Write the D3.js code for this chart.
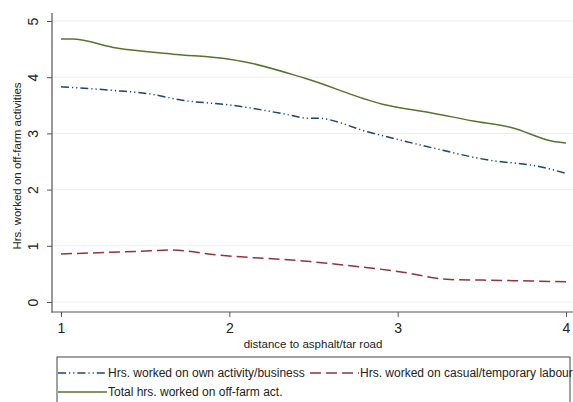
<!DOCTYPE html>
<html><head><meta charset="utf-8">
<script src="https://cdn.jsdelivr.net/npm/d3@7"></script>
<style>body{margin:0;background:#fff;}svg{display:block;font-family:"Liberation Sans",Arial,sans-serif;}</style>
</head><body>
<svg id="c" width="573" height="402"></svg>
<script>
const xTicks = [1, 2, 3, 4];
const yTicks = [0, 1, 2, 3, 4, 5];
const xTitle = "distance to asphalt/tar road";
const yTitle = "Hrs. worked on off-farm activities";

const ownX = [1.0, 1.33, 1.51, 1.72, 2.02, 2.32, 2.47, 2.52, 2.82, 3.21, 3.53, 3.84, 4.0];
const ownY = [3.83, 3.76, 3.71, 3.59, 3.50, 3.35, 3.27, 3.27, 3.03, 2.74, 2.53, 2.41, 2.29];
const casX = [1.0, 1.53, 1.66, 1.93, 2.48, 2.675, 3.01, 3.31, 3.505, 4.0];
const casY = [0.855, 0.91, 0.925, 0.836, 0.72, 0.66, 0.54, 0.40, 0.39, 0.36];
const totX = [1.0, 1.065, 1.33, 1.665, 2.0, 2.08, 2.45, 2.91, 3.21, 3.45, 3.68, 3.92, 4.0];
const totY = [4.68, 4.68, 4.52, 4.41, 4.32, 4.28, 3.98, 3.52, 3.36, 3.22, 3.10, 2.86, 2.83];

const seriesNames = ["Hrs. worked on own activity/business", "Hrs. worked on casual/temporary labour", "Total hrs. worked on off-farm act."];
const colors = ["#1a476f", "#90353b", "#55752f"];
const dashes = ["8,3,1.2,3,1.2,3", "11,5", null];

const svg = d3.select("#c");
const x = d3.scaleLinear().domain([1, 4]).range([61, 566]);
const y = d3.scaleLinear().domain([0, 5]).range([302, 21]);
const axisColor = "#555";

// gridlines
svg.append("g").selectAll("line").data(yTicks).join("line")
  .attr("x1", 52).attr("x2", 573).attr("y1", d => y(d)).attr("y2", d => y(d))
  .attr("stroke", "#e8eff2").attr("stroke-width", 1);

// y axis
const ya = svg.append("g").attr("transform", "translate(52,0)")
  .call(d3.axisLeft(y).tickValues(yTicks).tickSize(5).tickPadding(0).tickFormat(d3.format("d")));
ya.select(".domain").remove();
ya.selectAll(".tick line").attr("stroke", axisColor);
ya.selectAll(".tick text").attr("fill", "#222").attr("font-size", 14)
  .attr("transform", "translate(-19,0) rotate(-90)").attr("x", 0).attr("dy", "0.35em").attr("text-anchor", "middle");
svg.append("line").attr("x1", 52).attr("x2", 52).attr("y1", 13).attr("y2", 312.5).attr("stroke", axisColor).attr("stroke-width", 1.2);

// x axis
const xa = svg.append("g").attr("transform", "translate(0,312)")
  .call(d3.axisBottom(x).tickValues(xTicks).tickSize(5).tickPadding(6).tickFormat(d3.format("d")));
xa.select(".domain").remove();
xa.selectAll(".tick line").attr("stroke", axisColor);
xa.selectAll(".tick text").attr("fill", "#222").attr("font-size", 14);
svg.append("line").attr("x1", 51.5).attr("x2", 573).attr("y1", 312).attr("y2", 312).attr("stroke", axisColor).attr("stroke-width", 1.2);

// titles
svg.append("text").attr("x", 313).attr("y", 348).attr("text-anchor", "middle").attr("font-size", 11.5).attr("fill", "#222").text(xTitle);
svg.append("text").attr("transform", "translate(21,166) rotate(-90)").attr("text-anchor", "middle").attr("font-size", 11.5).attr("fill", "#222").text(yTitle);

// lines
const seriesData = [
  ownX.map((v, i) => [v, ownY[i]]),
  casX.map((v, i) => [v, casY[i]]),
  totX.map((v, i) => [v, totY[i]])
];
const line = d3.line().x(d => x(d[0])).y(d => y(d[1])).curve(d3.curveMonotoneX);
seriesData.forEach((s, i) => {
  svg.append("path").attr("d", line(s)).attr("fill", "none").attr("stroke", colors[i])
    .attr("stroke-width", 1.5).attr("stroke-dasharray", dashes[i]);
});

// legend
svg.append("rect").attr("x", 57).attr("y", 357).attr("width", 513).attr("height", 60)
  .attr("fill", "#fff").attr("stroke", "#444").attr("stroke-width", 1);
const legPos = [[58, 373], [310, 373], [58, 392]];
legPos.forEach((p, i) => {
  svg.append("line").attr("x1", p[0]).attr("x2", p[0] + 49).attr("y1", p[1]).attr("y2", p[1])
    .attr("stroke", colors[i]).attr("stroke-width", 1.5).attr("stroke-dasharray", dashes[i]);
  svg.append("text").attr("x", p[0] + 50).attr("y", p[1]).attr("dy", "0.35em").attr("font-size", 12)
    .attr("fill", "#222").text(seriesNames[i]);
});
</script>
</body></html>
